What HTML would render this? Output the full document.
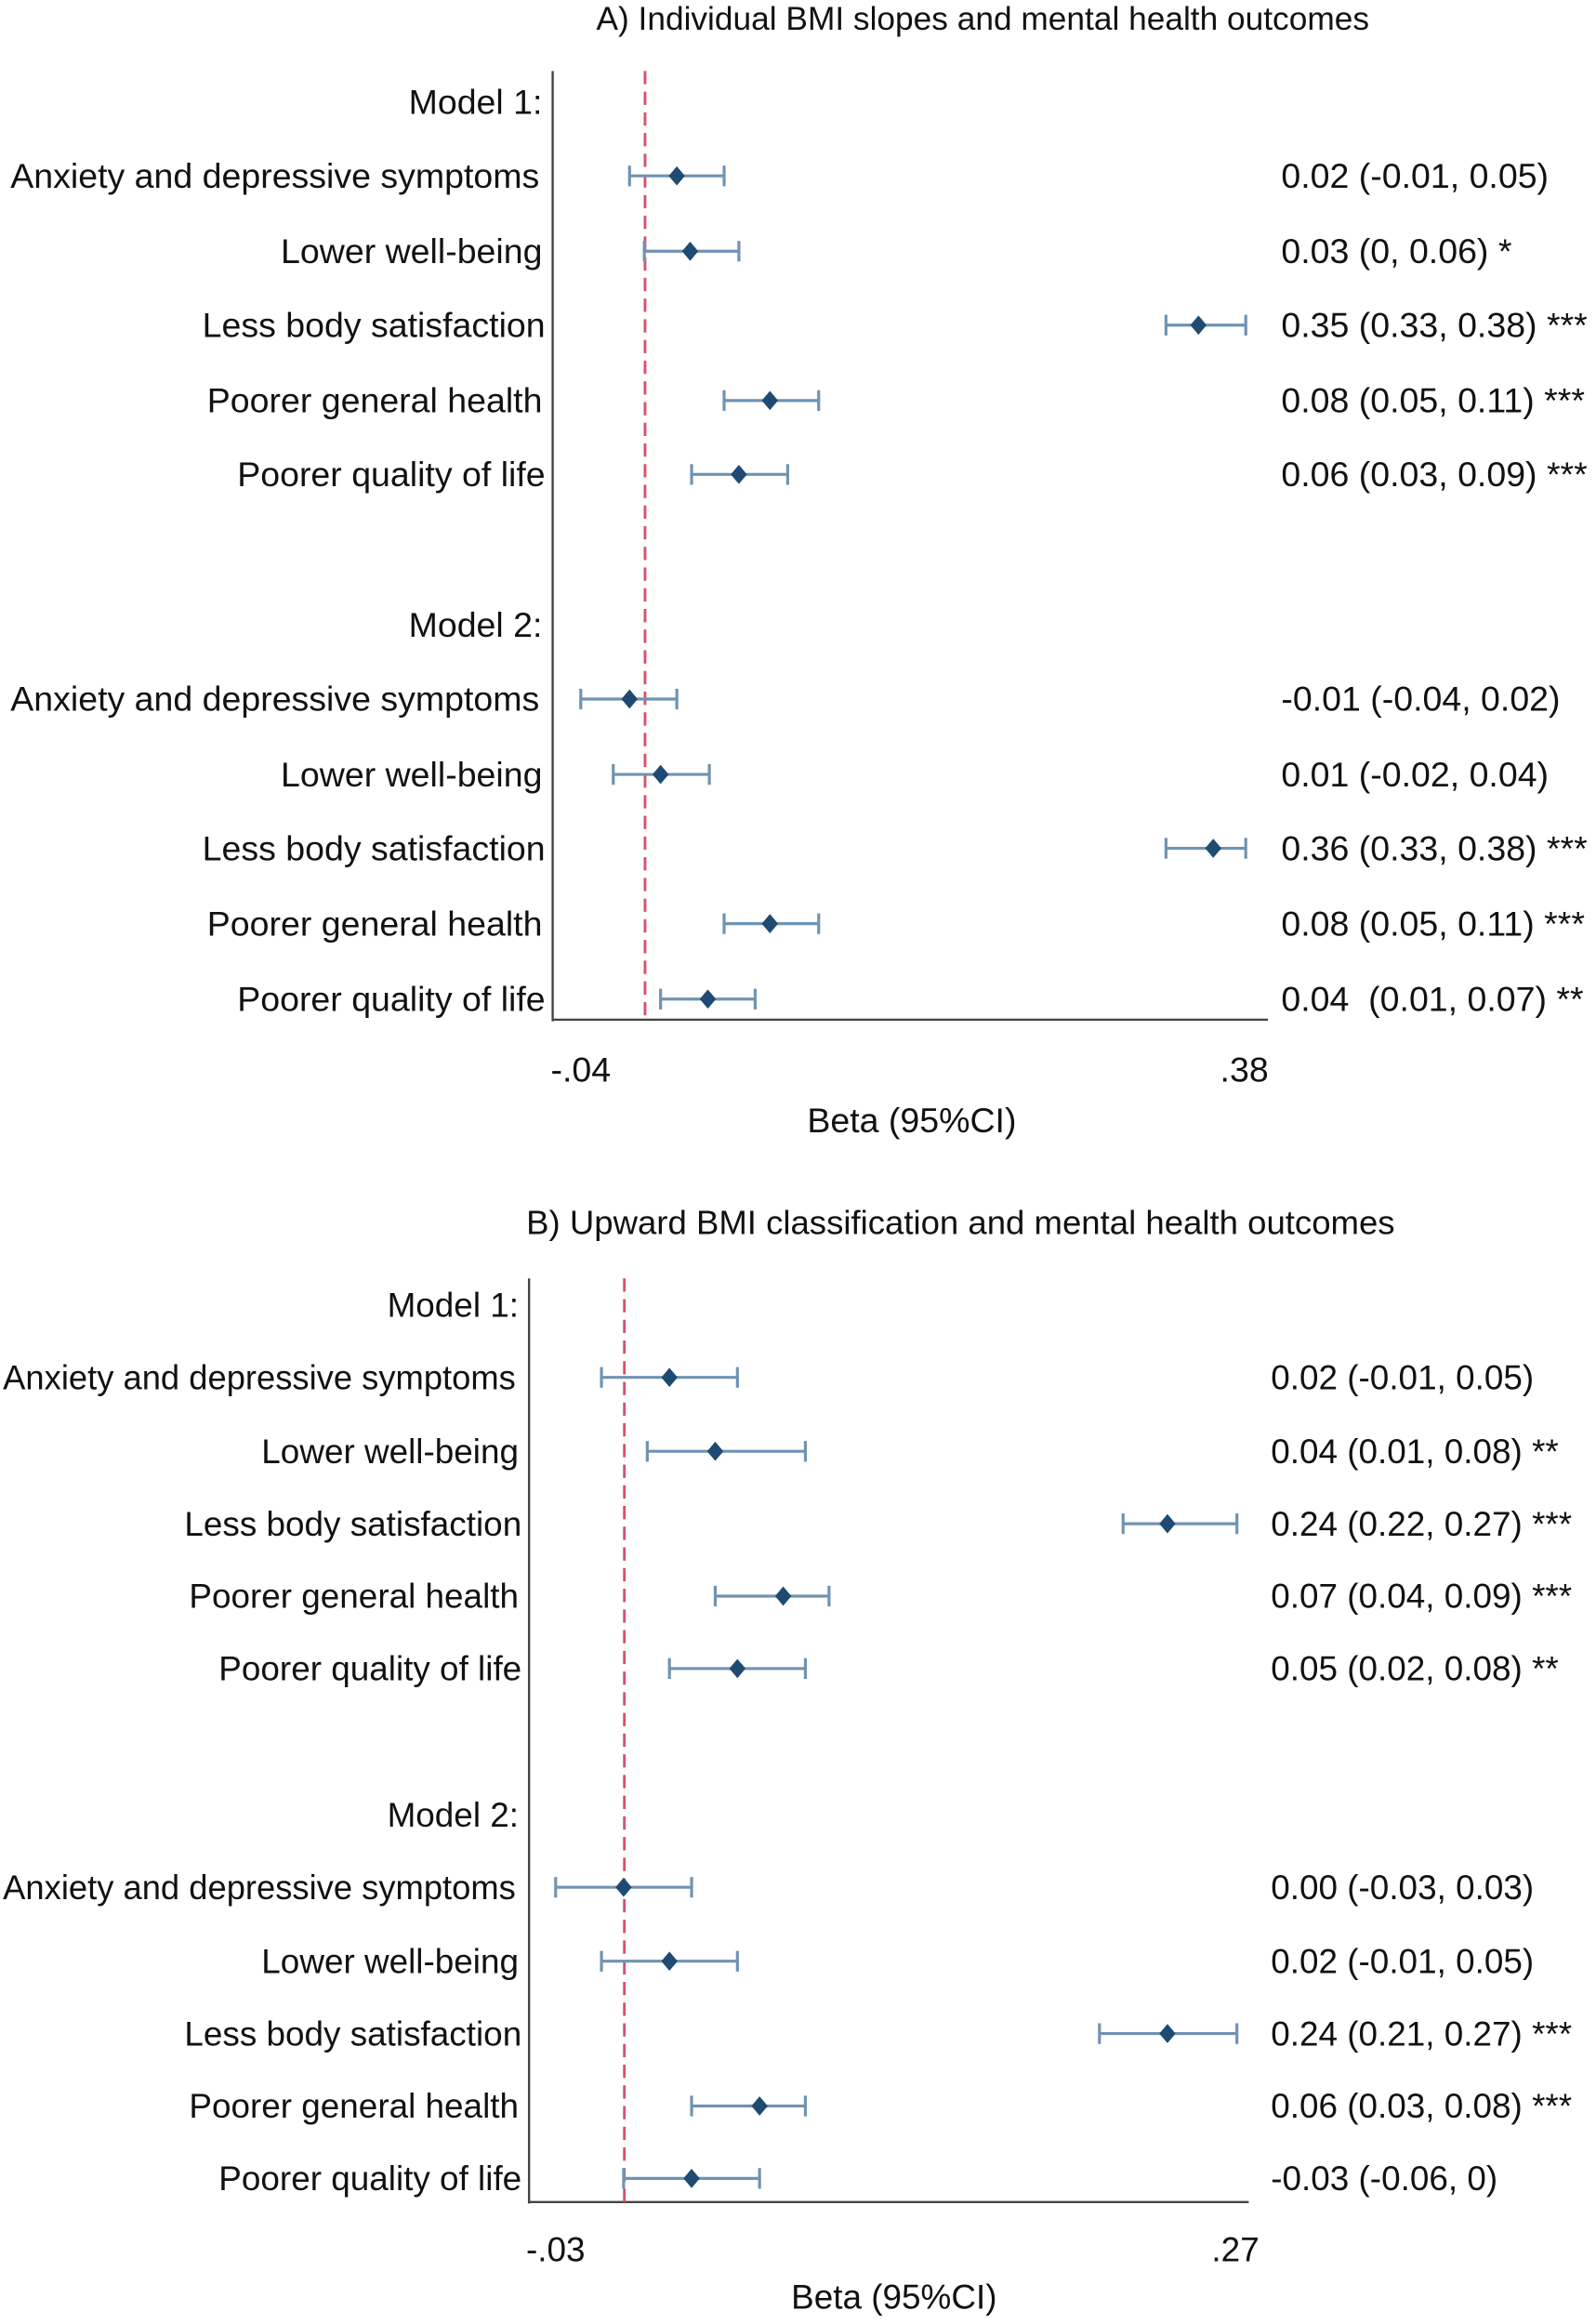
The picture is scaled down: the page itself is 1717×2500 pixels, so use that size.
<!DOCTYPE html>
<html><head><meta charset="utf-8"><style>
html,body{margin:0;padding:0;background:#fff}
svg{display:block}
text{font-family:"Liberation Sans",Arial,sans-serif;font-size:23.6px;fill:#111}
.b text{font-size:23.2px}
.l{text-anchor:end}
.m{text-anchor:middle}
.t{font-size:22.2px}
.b .tb{font-size:23px}
.ci{stroke:#6f93b3;stroke-width:2;fill:none}
</style></head><body>
<svg width="1717" height="2500" viewBox="0 0 1080 1572.5" xmlns="http://www.w3.org/2000/svg">
<rect width="1080" height="1572.5" fill="#fff"/>
<!-- Panel A -->
<text class="m t" x="665" y="20">A) Individual BMI slopes and mental health outcomes</text>
<line x1="374" y1="48" x2="374" y2="691" stroke="#444" stroke-width="1.5"/>
<line x1="374" y1="690" x2="858" y2="690" stroke="#444" stroke-width="1.5"/>
<line x1="436.5" y1="48" x2="436.5" y2="690" stroke="#d9506a" stroke-width="1.8" stroke-dasharray="9,5"/>
<text class="m" x="393" y="732">-.04</text>
<text class="m" x="842" y="732">.38</text>
<text class="m" x="617" y="766">Beta (95%CI)</text>
<g>
<text class="l" x="367" y="77">Model 1:</text>
<text class="l" x="365" y="127">Anxiety and depressive symptoms</text>
<text class="l" x="367" y="178">Lower well-being</text>
<text class="l" x="369" y="228">Less body satisfaction</text>
<text class="l" x="367" y="279">Poorer general health</text>
<text class="l" x="369" y="329">Poorer quality of life</text>
<text class="l" x="367" y="431">Model 2:</text>
<text class="l" x="365" y="481">Anxiety and depressive symptoms</text>
<text class="l" x="367" y="532">Lower well-being</text>
<text class="l" x="369" y="582">Less body satisfaction</text>
<text class="l" x="367" y="633">Poorer general health</text>
<text class="l" x="369" y="684">Poorer quality of life</text>
</g>
<g>
<text x="867" y="127">0.02 (-0.01, 0.05)</text>
<text x="867" y="178">0.03 (0, 0.06) *</text>
<text x="867" y="228">0.35 (0.33, 0.38) ***</text>
<text x="867" y="279">0.08 (0.05, 0.11) ***</text>
<text x="867" y="329">0.06 (0.03, 0.09) ***</text>
<text x="867" y="481">-0.01 (-0.04, 0.02)</text>
<text x="867" y="532">0.01 (-0.02, 0.04)</text>
<text x="867" y="582">0.36 (0.33, 0.38) ***</text>
<text x="867" y="633">0.08 (0.05, 0.11) ***</text>
<text x="867" y="684">0.04&#160; (0.01, 0.07) **</text>
</g>
<!-- Panel B -->
<g class="b">
<text class="m tb" x="650" y="835">B) Upward BMI classification and mental health outcomes</text>
<line x1="358" y1="865" x2="358" y2="1491" stroke="#444" stroke-width="1.5"/>
<line x1="358" y1="1490" x2="845" y2="1490" stroke="#444" stroke-width="1.5"/>
<line x1="422.5" y1="865" x2="422.5" y2="1490" stroke="#d9506a" stroke-width="1.8" stroke-dasharray="9,5"/>
<text class="m" x="376" y="1530">-.03</text>
<text class="m" x="836" y="1530">.27</text>
<text class="m" x="605" y="1562">Beta (95%CI)</text>
<text class="l" x="351" y="891">Model 1:</text>
<text x="2" y="940" textLength="347" lengthAdjust="spacingAndGlyphs">Anxiety and depressive symptoms</text>
<text class="l" x="351" y="990">Lower well-being</text>
<text class="l" x="353" y="1039">Less body satisfaction</text>
<text class="l" x="351" y="1088">Poorer general health</text>
<text class="l" x="353" y="1137">Poorer quality of life</text>
<text class="l" x="351" y="1236">Model 2:</text>
<text x="2" y="1285" textLength="347" lengthAdjust="spacingAndGlyphs">Anxiety and depressive symptoms</text>
<text class="l" x="351" y="1335">Lower well-being</text>
<text class="l" x="353" y="1384">Less body satisfaction</text>
<text class="l" x="351" y="1433">Poorer general health</text>
<text class="l" x="353" y="1482">Poorer quality of life</text>
<text x="860" y="940">0.02 (-0.01, 0.05)</text>
<text x="860" y="990">0.04 (0.01, 0.08) **</text>
<text x="860" y="1039">0.24 (0.22, 0.27) ***</text>
<text x="860" y="1088">0.07 (0.04, 0.09) ***</text>
<text x="860" y="1137">0.05 (0.02, 0.08) **</text>
<text x="860" y="1285">0.00 (-0.03, 0.03)</text>
<text x="860" y="1335">0.02 (-0.01, 0.05)</text>
<text x="860" y="1384">0.24 (0.21, 0.27) ***</text>
<text x="860" y="1433">0.06 (0.03, 0.08) ***</text>
<text x="860" y="1482">-0.03 (-0.06, 0)</text>
</g>
<g class="ci">
<path d="M426 119H490M426 112V126M490 112V126"/>
<path d="M436 170H500M436 163V177M500 163V177"/>
<path d="M789 220H843M789 213V227M843 213V227"/>
<path d="M490 271H554M490 264V278M554 264V278"/>
<path d="M468 321H533M468 314V328M533 314V328"/>
<path d="M393 473H458M393 466V480M458 466V480"/>
<path d="M415 524H480M415 517V531M480 517V531"/>
<path d="M789 574H843M789 567V581M843 567V581"/>
<path d="M490 625H554M490 618V632M554 618V632"/>
<path d="M447 676H511M447 669V683M511 669V683"/>
<path d="M407 932H499M407 925V939M499 925V939"/>
<path d="M438 982H545M438 975V989M545 975V989"/>
<path d="M760 1031H837M760 1024V1038M837 1024V1038"/>
<path d="M484 1080H561M484 1073V1087M561 1073V1087"/>
<path d="M453 1129H545M453 1122V1136M545 1122V1136"/>
<path d="M376 1277H468M376 1270V1284M468 1270V1284"/>
<path d="M407 1327H499M407 1320V1334M499 1320V1334"/>
<path d="M744 1376H837M744 1369V1383M837 1369V1383"/>
<path d="M468 1425H545M468 1418V1432M545 1418V1432"/>
<path d="M422 1474H514M422 1467V1481M514 1467V1481"/>
</g>
<g fill="#1f4a72">
<path d="M458 112.5l5.5 6.5-5.5 6.5-5.5-6.5z"/>
<path d="M467 163.5l5.5 6.5-5.5 6.5-5.5-6.5z"/>
<path d="M811 213.5l5.5 6.5-5.5 6.5-5.5-6.5z"/>
<path d="M521 264.5l5.5 6.5-5.5 6.5-5.5-6.5z"/>
<path d="M500 314.5l5.5 6.5-5.5 6.5-5.5-6.5z"/>
<path d="M426 466.5l5.5 6.5-5.5 6.5-5.5-6.5z"/>
<path d="M447 517.5l5.5 6.5-5.5 6.5-5.5-6.5z"/>
<path d="M821 567.5l5.5 6.5-5.5 6.5-5.5-6.5z"/>
<path d="M521 618.5l5.5 6.5-5.5 6.5-5.5-6.5z"/>
<path d="M479 669.5l5.5 6.5-5.5 6.5-5.5-6.5z"/>
<path d="M453 925.5l5.5 6.5-5.5 6.5-5.5-6.5z"/>
<path d="M484 975.5l5.5 6.5-5.5 6.5-5.5-6.5z"/>
<path d="M790 1024.5l5.5 6.5-5.5 6.5-5.5-6.5z"/>
<path d="M530 1073.5l5.5 6.5-5.5 6.5-5.5-6.5z"/>
<path d="M499 1122.5l5.5 6.5-5.5 6.5-5.5-6.5z"/>
<path d="M422 1270.5l5.5 6.5-5.5 6.5-5.5-6.5z"/>
<path d="M453 1320.5l5.5 6.5-5.5 6.5-5.5-6.5z"/>
<path d="M790 1369.5l5.5 6.5-5.5 6.5-5.5-6.5z"/>
<path d="M514 1418.5l5.5 6.5-5.5 6.5-5.5-6.5z"/>
<path d="M468 1467.5l5.5 6.5-5.5 6.5-5.5-6.5z"/>
</g>
</svg>
</body></html>
